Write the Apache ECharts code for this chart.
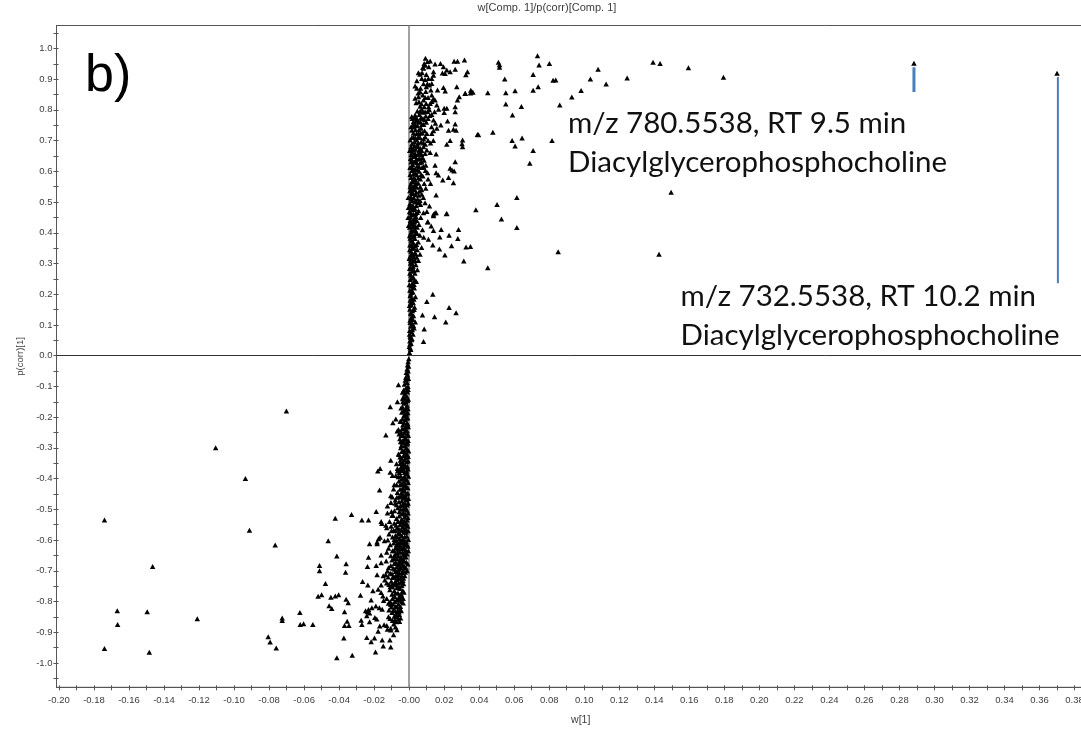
<!DOCTYPE html>
<html><head><meta charset="utf-8">
<style>html,body{margin:0;padding:0;background:#fff;overflow:hidden}#c{width:1081px;height:742px}</style>
<script src="https://cdn.jsdelivr.net/npm/echarts@6/dist/echarts.min.js"></script>
</head><body><div id="c"></div>
<script>
const chartTitle = 'w[Comp. 1]/p(corr)[Comp. 1]';
const xAxisName = 'w[1]';
const yAxisName = 'p(corr)[1]';
const panelLetter = 'b)';
const noteOne = ['m/z 780.5538, RT 9.5 min', 'Diacylglycerophosphocholine'];
const noteTwo = ['m/z 732.5538, RT 10.2 min', 'Diacylglycerophosphocholine'];

const xLabelValues = [-0.20,-0.18,-0.16,-0.14,-0.12,-0.10,-0.08,-0.06,-0.04,-0.02,0,0.02,0.04,0.06,0.08,0.10,0.12,0.14,0.16,0.18,0.20,0.22,0.24,0.26,0.28,0.30,0.32,0.34,0.36,0.38];
const xTickValues = [-0.20,-0.19,-0.18,-0.17,-0.16,-0.15,-0.14,-0.13,-0.12,-0.11,-0.10,-0.09,-0.08,-0.07,-0.06,-0.05,-0.04,-0.03,-0.02,-0.01,0,0.01,0.02,0.03,0.04,0.05,0.06,0.07,0.08,0.09,0.10,0.11,0.12,0.13,0.14,0.15,0.16,0.17,0.18,0.19,0.20,0.21,0.22,0.23,0.24,0.25,0.26,0.27,0.28,0.29,0.30,0.31,0.32,0.33,0.34,0.35,0.36,0.37,0.38];
const yLabelValues = [-1.0,-0.9,-0.8,-0.7,-0.6,-0.5,-0.4,-0.3,-0.2,-0.1,0,0.1,0.2,0.3,0.4,0.5,0.6,0.7,0.8,0.9,1.0];
const yTickValues = [-1.05,-1.0,-0.95,-0.9,-0.85,-0.8,-0.75,-0.7,-0.65,-0.6,-0.55,-0.5,-0.45,-0.4,-0.35,-0.3,-0.25,-0.2,-0.15,-0.1,-0.05,0,0.05,0.1,0.15,0.2,0.25,0.3,0.35,0.4,0.45,0.5,0.55,0.6,0.65,0.7,0.75,0.8,0.85,0.9,0.95,1.0,1.05];

const pointerA = [[0.2883,0.939],[0.2883,0.858]];
const pointerB = [[0.3705,0.907],[0.3705,0.236]];

const upperSparse = [[.2883,.952],[.370,.919],[.0733,.976],[.0742,.946],[.0801,.951],[.0708,.915],[.051,.955],[.0516,.947],[.0516,.939],[.0546,.900],[.0822,.896],[.0837,.897],[.1035,.900],[.1079,.932],[.1125,.884],[.1245,.904],[.1393,.955],[.1433,.951],[.1595,.937],[.1795,.906],[.0982,.863],[.0929,.842],[.086,.816],[.0737,.875],[.0708,.864],[.0605,.862],[.0552,.856],[.0449,.856],[.0358,.859],[.035,.855],[.032,.853],[.0552,.819],[.0641,.811],[.0590,.783],[.0478,.727],[.0396,.719],[.0588,.700],[.0645,.708],[.0605,.682],[.0816,.700],[.0708,.668],[.0689,.626],[.1496,.532],[.0615,.515],[.0502,.492],[.0381,.475],[.0527,.445],[.0615,.417],[.0851,.338],[.1427,.330],[.0449,.286],[.0312,.308],[.0325,.354],[.035,.355],[.0213,.462],[.0148,.465],[.0139,.46],[.0282,.411],[.0278,.381],[.0228,.392],[.0242,.358],[.0204,.328],[.0173,.347],[.0183,.411],[.0175,.386],[.0135,.36],[.0139,.407],[.0126,.422],[.0105,.435],[.011,.379],[.0268,.14],[.0228,.157],[.0209,.11],[.0145,.127],[.0076,.132],[.0135,.2],[.0101,.176],[.0082,.046],[.0086,.087],[.0257,.958],[.0276,.958],[.0316,.962],[.0263,.932],[.0333,.924],[.0324,.914],[.0272,.875],[.0352,.864],[.0364,.857],[.032,.854],[.0286,.843],[.0276,.832],[.0263,.81],[.0263,.794],[.0263,.754],[.0253,.737],[.0268,.734],[.0225,.734],[.039,.72],[.0234,.7],[.0215,.688],[.0305,.702],[.0302,.69],[.0305,.68],[.0263,.631],[.0234,.61],[.0245,.604],[.0257,.601],[.0225,.58],[.0253,.563],[.0192,.572],[.0167,.588],[.0154,.595],[.0154,.523],[.0116,.487],[.0101,.469],[.0082,.465],[.0154,.465],[.0139,.455],[.0215,.463],[.0107,.436],[.0148,.62]];

const upperTop = [[.0093,.968],[.0105,.957],[.0086,.951],[.012,.959],[.0148,.949],[.0179,.951],[.0082,.935],[.0074,.921],[.0053,.921],[.0062,.916],[.0196,.94],[.0215,.93],[.019,.92],[.0205,.918],[.0234,.924],[.0139,.924],[.0139,.913],[.0129,.902],[.0072,.902],[.0091,.899],[.011,.902],[.0044,.895],[.0129,.886],[.0116,.881],[.0034,.878],[.0044,.87],[.0196,.873],[.0162,.865],[.0206,.861],[.0124,.865],[.0063,.859],[.0078,.848],[.0053,.843],[.0129,.848],[.0139,.837],[.0148,.832],[.0034,.838],[.004,.823],[.0082,.832],[.0097,.821],[.012,.821],[.0129,.827],[.0158,.816],[.0111,.81],[.0072,.802],[.0091,.794],[.0168,.802],[.02,.805],[.0215,.805],[.02,.791],[.0145,.794],[.0129,.785],[.0034,.783],[.0015,.778],[.0044,.772],[.0063,.762],[.0025,.762],[.0034,.751],[.0139,.767],[.015,.756],[.0181,.751],[.0158,.74],[.0139,.732],[.0129,.723],[.0219,.764],[.0101,.723],[.0053,.723],[.0015,.734],[.0025,.712],[.0006,.702],[.0044,.702],[.0044,.685],[.0063,.675],[.0082,.68],[.0101,.669],[.0025,.669],[.0034,.658],[.0091,.658],[.012,.661],[.0154,.656],
[.0018,.772],[.0028,.744],[.0036,.735],[.0048,.748],[.0068,.74],[.0083,.752],[.0098,.76],[.0075,.725],[.0062,.71],[.0082,.705],[.0108,.7],[.0122,.692],[.0138,.7],[.0092,.688],[.0016,.69],[.003,.695],[.0011,.68],[.0056,.668],[.0071,.655],[.0024,.648],[.0042,.64],[.0012,.655],[.0058,.785],[.0068,.775],[.0079,.772],[.0095,.78],[.0047,.796],[.0063,.812],[.0086,.81],[.0108,.84],[.0095,.86],[.0098,.875],[.0052,.855],[.0118,.782],[.0128,.745]];

const upperCore = [[.0002,.01],[.0006,.025],[.0001,.03],[.0011,.04],[.0004,.048],[.0016,.055],[.0006,.063],[.0022,.07],[.0012,.078],[.0003,.082],[.0028,.09],[.0009,.096],[.0018,.104],[.0035,.11],[.0005,.115],[.0012,.124],[.0025,.13],[.0008,.138],[.0019,.146],[.0004,.151],[.0031,.158],[.0011,.165],[.0023,.172],[.0006,.18],[.0015,.186],[.0036,.192],[.0009,.2],[.0021,.207],[.0004,.213],[.0029,.22],[.0012,.227],[.0017,.235],[.0041,.241],[.0006,.248],[.0024,.255],[.001,.262],[.0033,.268],[.0015,.275],[.0047,.28],[.0003,.284],[.0022,.29],[.0038,.296],[.0008,.301],[.0027,.307],[.0014,.314],[.0053,.31],[.0043,.32],[.0005,.322],[.0021,.328],[.0062,.33],[.0032,.335],[.0011,.34],[.0046,.345],[.0018,.35],[.0071,.352],[.0035,.357],[.0004,.36],[.0024,.366],[.0052,.37],[.0012,.376],[.0083,.385],[.0033,.381],[.0019,.387],[.0061,.392],[.0007,.395],[.0041,.4],[.0026,.406],[.0014,.41],[.0076,.41],[.0003,.418],[.0035,.422],[.0056,.427],[.0021,.43],[.001,.436],[.0044,.44],[.0029,.446],[.0066,.45],[.0006,.452],[.0016,.458],[.0037,.462],[.0002,.468],[.0054,.472],[.0025,.476],[.0011,.482],[.0041,.488],[.0065,.492],[.0005,.495],[.0031,.5],[.0018,.505],[.0048,.51],[.0081,.515],[.0009,.518],[.0036,.524],[.0023,.528],[.0058,.535],[.0071,.54],[.0004,.537],[.0014,.544],[.0043,.548],[.003,.553],[.0009,.558],[.0052,.562],[.0086,.56],[.002,.567],[.0036,.572],[.0064,.575],[.0011,.58],[.0078,.585],[.0045,.588],[.0025,.592],[.0105,.595],[.0093,.603],[.0057,.6],[.0015,.603],[.0034,.608],[.0074,.612],[.0047,.618],[.0095,.62],[.002,.622],[.0063,.628],[.0011,.63],[.0037,.633],[.0085,.636],[.0052,.64],[.0026,.572],[.0108,.575],[.0122,.56],[.0095,.545],[.0072,.525],[.0062,.505],[.0091,.498],[.0007,.44],[.0003,.39],[.0016,.36],[.001,.31],[.0028,.232],[.0014,.206],[.0008,.17],[.0016,.12],[.0024,.098],[.0008,.06]];

const upperCoreExtra = [[.0009,.02],[.0004,.037],[.0013,.052],[.0002,.07],[.0018,.084],[.0006,.108],[.0022,.118],[.0014,.136],[.0028,.15],[.0002,.163],[.0018,.176],[.0027,.184],[.0006,.195],[.0013,.212],[.0024,.224],[.0001,.231],[.0032,.245],[.0015,.252],[.0004,.268],[.0027,.278],[.0008,.287],[.0018,.298],[.0034,.31],[.0001,.316],[.0026,.32],[.0012,.33],[.0039,.33],[.0003,.345],[.0028,.35],[.0012,.358],[.0042,.362],[.0018,.372],[.0006,.382],[.0028,.392],[.0046,.398],[.0012,.402],[.0034,.41],[-.0003,.424],[.0021,.42],[.0046,.418],[.0009,.428],[.0031,.435],[.0018,.44],[-.0006,.45],[.0039,.452],[.0024,.46],[.0008,.465],[.0046,.466],[.0015,.474],[.0033,.478],[-.0004,.482],[.0022,.488],[.0008,.49],[.0052,.498],[.0038,.502],[.0012,.51],[.0026,.515],[-.0005,.515],[.0055,.522],[.0014,.53],[.0041,.532],[.003,.54],[.0019,.548],[.0063,.55],[.0006,.55],[.0039,.56],[.0014,.565],[.0027,.58],[.0006,.59],[.0052,.578],[.0036,.595],[.0068,.59],[.0015,.612],[.0025,.606],[.0046,.606],[.0058,.614],[.0082,.615],[.0005,.612],[.0028,.63],[.0072,.63],[.0016,.638],[.0044,.628],[.0061,.642],[.0008,.642],[.0033,.648],[.0076,.645],[.0018,.662],[.005,.655],[.0062,.66],[.0003,.668],[.0036,.672],[.0015,.672],[.0072,.668],[.0052,.68],[.003,.682],[.0082,.692],[.0052,.692],[.0068,.695],[.0036,.708],[.0015,.71],[.0052,.712],[.0092,.712],[.0024,.725],[.0042,.722],[.0065,.725],[.0088,.732],[.0011,.745],[.0056,.735],[.0072,.752],[.0022,.752],[.0052,.76],[.0043,.765],[.0088,.768],[.0032,.775],[.0108,.772],[.0078,.792],[.0062,.795],[.0105,.795],[.0115,.8],[.0056,.826],[.007,.82],[.0092,.84],[.0065,.87],[.0082,.885],[.0104,.885],[.0098,.915],[.0078,.938],[.0112,.94],[.0092,.945]];

const lowerSparse = [[-.174,-.535],[-.1465,-.686],[-.0912,-.568],[-.0765,-.616],[-.1667,-.830],[-.1665,-.875],[-.1496,-.833],[-.121,-.856],[-.174,-.953],[-.1484,-.965],[-.0805,-.915],[-.0794,-.932],[-.0759,-.951],[-.0725,-.854],[-.0725,-.862],[-.0624,-.836],[-.0622,-.875],[-.0603,-.872],[-.055,-.875],[-.0512,-.683],[-.0512,-.7],[-.0478,-.741],[-.052,-.783],[-.05,-.778],[-.0447,-.786],[-.0422,-.782],[-.0403,-.778],[-.0457,-.814],[-.0442,-.823],[-.0462,-.602],[-.0422,-.529],[-.0329,-.517],[-.027,-.535],[-.0232,-.535],[-.0413,-.652],[-.036,-.677],[-.0363,-.705],[-.036,-.793],[-.0348,-.804],[-.0369,-.833],[-.0354,-.864],[-.0369,-.878],[-.0344,-.878],[-.0373,-.919],[-.0413,-.983],[-.0325,-.975],[-.0192,-.964],[-.0242,-.917],[-.0217,-.931],[-.0198,-.919],[-.0154,-.925],[-.0148,-.945],[-.0105,-.948],[-.011,-.925],[-.0089,-.908],[-.0266,-.735],[-.0236,-.746],[-.0278,-.780],[-.0232,-.656],[-.0238,-.686],[-.0188,-.683],[-.0226,-.612],[-.0183,-.612],[-.0183,-.606],[-.0188,-.507],[-.0124,-.489],[-.0124,-.512],[-.0101,-.507],[-.016,-.54],[-.0156,-.546],[-.0133,-.552],[-.0128,-.56],[-.0101,-.57],[-.0166,-.591],[-.0175,-.596],[-.0141,-.602],[-.0118,-.627],[-.016,-.649],[-.016,-.674],[-.0131,-.668],[-.0105,-.651],[-.0105,-.683],[-.0124,-.701],[-.0148,-.716],[-.0183,-.713],[-.0139,-.73],[-.016,-.746],[-.0207,-.765],[-.0177,-.76],[-.016,-.771],[-.015,-.782],[-.0146,-.797],[-.0128,-.79],[-.0118,-.806],[-.0217,-.795],[-.0274,-.861],[-.027,-.875],[-.0226,-.866],[-.0196,-.852],[-.0185,-.857],[-.0242,-.846],[-.0226,-.837],[-.0249,-.83],[-.0232,-.826],[-.0213,-.82],[-.019,-.815],[-.017,-.82],[-.0154,-.825],[-.0238,-.833],[-.0168,-.88],[-.0177,-.897],[-.0143,-.876],[-.0128,-.878],[-.0105,-.887],[-.0124,-.89],[-.0105,-.893],[-.0078,-.883],[-.007,-.892],[-.0118,-.85],[-.0109,-.855],
[-.0061,-.095],[-.0038,-.119],[-.0067,-.15],[-.0108,-.166],[-.0076,-.206],[-.0093,-.218],[-.0051,-.213],[-.0061,-.24],[-.0068,-.245],[-.0133,-.258],[-.0061,-.32],[-.0105,-.34],[-.0166,-.367],[-.0179,-.375],[-.0108,-.379],[-.0067,-.367],[-.0169,-.437],[-.0089,-.434],[-.0105,-.456],[-.007,-.461],[-.008,-.48],[-.1105,-.30],[-.0935,-.40],[-.0701,-.18]];

const lowerCore = [[-.0002,-.01],[-.0006,-.02],[-.0009,-.03],[-.0003,-.034],[-.0012,-.043],[-.0006,-.05],[-.0016,-.055],[-.0009,-.063],[-.0019,-.07],[-.0004,-.074],[-.0022,-.08],[-.0012,-.087],[-.0027,-.093],[-.0007,-.1],[-.0018,-.105],[-.0031,-.112],[-.001,-.118],[-.0024,-.124],[-.0014,-.132],[-.0034,-.136],[-.0005,-.142],[-.002,-.149],[-.0029,-.155],[-.0012,-.161],[-.0038,-.167],[-.0007,-.173],[-.0024,-.178],[-.0042,-.184],[-.0016,-.19],[-.0031,-.196],[-.0009,-.202],[-.0022,-.208],[-.0047,-.214],[-.0013,-.22],[-.0036,-.226],[-.0005,-.231],[-.0027,-.237],[-.0018,-.243],[-.0044,-.249],[-.001,-.255],[-.0033,-.26],[-.0021,-.266],[-.0053,-.27],[-.0006,-.276],[-.0039,-.282],[-.0014,-.288],[-.0027,-.294],[-.0048,-.3],[-.001,-.305],[-.0034,-.311],[-.002,-.317],[-.0058,-.322],[-.0006,-.328],[-.0042,-.334],[-.0026,-.34],[-.0012,-.345],[-.0051,-.351],[-.0034,-.357],[-.0018,-.363],[-.0066,-.375],[-.0055,-.38],[-.0007,-.369],[-.0043,-.374],[-.0026,-.38],[-.0076,-.39],[-.0062,-.394],[-.0049,-.391],[-.0012,-.386],[-.0034,-.397],[-.0019,-.403],[-.0058,-.408],[-.0006,-.413],[-.0042,-.418],[-.0072,-.42],[-.0027,-.424],[-.0014,-.43],[-.0052,-.435],[-.0036,-.44],[-.0067,-.445],[-.0008,-.447],[-.0022,-.453],[-.0046,-.458],[-.0031,-.464],[-.0015,-.47],[-.0058,-.475],[-.0079,-.47],[-.0006,-.48],[-.0038,-.485],[-.0024,-.49],[-.0065,-.495],[-.0049,-.5],[-.0012,-.503],[-.0084,-.505],[-.0033,-.51],[-.002,-.517],[-.0057,-.522],[-.0092,-.52],[-.0008,-.527],[-.0042,-.532],[-.0072,-.53],[-.0028,-.538],[-.0085,-.545],[-.0015,-.545],[-.0053,-.55],[-.0103,-.555],[-.0036,-.556],[-.0068,-.56],[-.002,-.563],[-.0088,-.568],[-.0046,-.568],[-.0006,-.57],[-.0029,-.575],[-.0062,-.578],[-.0078,-.585],[-.0042,-.586],[-.0014,-.587],[-.0095,-.59],[-.0055,-.595],[-.003,-.6],[-.0072,-.603],[-.0018,-.605],[-.0045,-.61],[-.0088,-.61],[-.0062,-.616],[-.0108,-.615],[-.0032,-.62],[-.0008,-.62],[-.0078,-.625],[-.005,-.628],[-.002,-.632],[-.0095,-.635],[-.0038,-.64],[-.0066,-.642],[-.0012,-.645],[-.0085,-.65],[-.0048,-.655],[-.0026,-.655],[-.0072,-.66],[-.0098,-.665],[-.0036,-.668],[-.0058,-.672],[-.0015,-.672],[-.0085,-.676],[-.0042,-.682],[-.007,-.686],[-.0026,-.688],[-.0092,-.692],[-.0056,-.695],[-.0012,-.7],[-.0078,-.702],[-.004,-.706],[-.0108,-.708],[-.0064,-.712],[-.0025,-.716],[-.0088,-.72],[-.005,-.724],[-.0072,-.728],[-.0102,-.734],[-.0036,-.732],[-.006,-.74],[-.0115,-.745],[-.0084,-.744],[-.0042,-.748],[-.0096,-.752],[-.007,-.755],[-.0052,-.758],[-.011,-.762],[-.0085,-.765],[-.0036,-.764],[-.0064,-.772],[-.0098,-.776],[-.0045,-.776],[-.0082,-.784],[-.0054,-.786],[-.0034,-.79],[-.0072,-.795],[-.0108,-.8],[-.0042,-.8],[-.0092,-.808],[-.0062,-.808],[-.0078,-.816],[-.0102,-.818],[-.005,-.816],[-.0088,-.826],[-.0066,-.83],[-.0115,-.828],[-.0045,-.83],[-.0098,-.836],[-.0075,-.84],[-.0056,-.842],[-.0085,-.848],[-.0062,-.856],[-.0095,-.862],[-.0072,-.866],[-.0088,-.873],[-.0049,-.854],[-.0052,-.778],[-.003,-.77],[-.0128,-.74],[-.012,-.72],[-.0134,-.712],[-.0118,-.69],[-.0128,-.64],[-.0122,-.6],[-.0115,-.58],[-.0112,-.54],[-.0098,-.52],[-.0104,-.478],[-.0096,-.46],[-.0085,-.42],[-.0095,-.39],[-.0072,-.352],[-.0052,-.33],[-.0049,-.28],[-.0057,-.255],[-.0046,-.17],[-.0037,-.14]];

const lowerCoreExtra = [[-.0014,-.076],[-.0006,-.11],[-.0015,-.115],[-.0025,-.138],[-.001,-.146],[-.0036,-.15],[-.0018,-.172],[-.0033,-.18],[-.0008,-.186],[-.0026,-.192],[-.0014,-.204],[-.0038,-.206],[-.0028,-.218],[-.0008,-.222],[-.0018,-.232],[-.004,-.238],[-.0012,-.244],[-.0028,-.25],[-.0005,-.26],[-.0045,-.26],[-.0018,-.272],[-.0035,-.275],[-.0009,-.284],[-.0025,-.283],[-.0044,-.292],[-.0016,-.3],[-.0003,-.31],[-.0028,-.31],[-.0042,-.312],[-.0012,-.322],[-.0032,-.325],[-.0021,-.332],[-.005,-.34],[-.0006,-.342],[-.0038,-.348],[-.0024,-.355],[-.0046,-.362],[-.001,-.36],[-.0032,-.37],[-.0014,-.376],[-.0052,-.372],[-.0004,-.392],[-.0026,-.394],[-.0044,-.402],[-.0012,-.405],[-.0032,-.412],[-.0052,-.42],[-.002,-.42],[-.0008,-.43],[-.0036,-.43],[-.0025,-.44],[-.0045,-.448],[-.0012,-.45],[-.0032,-.455],[-.0058,-.46],[-.0018,-.462],[-.0004,-.465],[-.0042,-.472],[-.0026,-.478],[-.0012,-.486],[-.005,-.488],[-.0072,-.485],[-.0032,-.498],[-.0018,-.5],[-.0056,-.508],[-.0006,-.512],[-.0042,-.515],[-.0026,-.525],[-.0012,-.535],[-.0065,-.54],[-.0048,-.54],[-.0035,-.545],[-.0022,-.55],[-.0075,-.552],[-.0008,-.555],[-.0058,-.565],[-.0034,-.568],[-.0078,-.57],[-.0018,-.575],[-.0052,-.58],[-.0068,-.59],[-.0026,-.59],[-.0036,-.595],[-.0005,-.598],[-.0085,-.598],[-.0048,-.604],[-.0058,-.608],[-.0022,-.612],[-.0036,-.61],[-.0072,-.616],[-.0012,-.615],[-.0052,-.62],[-.0042,-.625],[-.0065,-.63],[-.0028,-.628],[-.0085,-.635],[-.0005,-.635],[-.0054,-.638],[-.0022,-.642],[-.0076,-.645],[-.0034,-.648],[-.0062,-.652],[-.0018,-.655],[-.0042,-.66],[-.0088,-.66],[-.0054,-.664],[-.0028,-.668],[-.0076,-.672],[-.0008,-.678],[-.0046,-.675],[-.0035,-.682],[-.0062,-.68],[-.0018,-.69],[-.0082,-.695],[-.0048,-.69],[-.0068,-.7],[-.0034,-.698],[-.0098,-.71],[-.0055,-.708],[-.0022,-.705],[-.0076,-.715],[-.0042,-.716],[-.0095,-.722],[-.0062,-.724],[-.0032,-.724],[-.0078,-.735],[-.0048,-.736],[-.0095,-.742],[-.0032,-.742],[-.0072,-.746],[-.0058,-.752],[-.0108,-.752],[-.0078,-.772],[-.0042,-.785],[-.0062,-.79],[-.0095,-.79],[-.0052,-.796],[-.0082,-.8],[-.0034,-.805],[-.0068,-.818],[-.0052,-.825],[-.0082,-.83],[-.0058,-.834],[-.0105,-.81],[-.0072,-.85],[-.0082,-.86],[-.0055,-.865]];

const allPoints = [].concat(upperSparse, upperTop, upperCore, upperCoreExtra, lowerSparse, lowerCore, lowerCoreExtra);

const axisGrey = '#555555', labelGrey = '#3c3c3c';
const baseAxis = {
  type: 'value', splitLine: {show: false}, scale: false,
  axisLine: {show: true, onZero: false, lineStyle: {color: axisGrey, width: 1}},
};
const note = (text, x, y) => ({type: 'text', x, y, silent: true, style: {
  text: text.join('\n'), font: '29.5px Lato, sans-serif', lineHeight: 39, fill: '#111', textVerticalAlign: 'top'}});

const chart = echarts.init(document.getElementById('c'), null, {renderer: 'canvas'});
chart.setOption({
  animation: false,
  backgroundColor: '#ffffff',
  title: {text: chartTitle, left: 547, top: 2, textAlign: 'center', padding: [0, 0, 0, 0],
    textStyle: {fontFamily: 'Liberation Sans', fontSize: 11, fontWeight: 'normal', color: labelGrey}},
  grid: {left: 56.5, top: 25.5, width: 1048.5, height: 661.8, show: true, borderColor: axisGrey, borderWidth: 1, backgroundColor: 'transparent', containLabel: false, outerBoundsMode: 'none'},
  xAxis: [
    Object.assign({}, baseAxis, {min: -0.2014, max: 0.3974, position: 'bottom',
      name: xAxisName, nameLocation: 'middle', nameGap: 27,
      nameTextStyle: {fontFamily: 'Liberation Sans', fontSize: 10.5, color: labelGrey},
      axisTick: {show: true, length: 3, lineStyle: {color: axisGrey}, customValues: xTickValues},
      axisLabel: {show: true, margin: 8, fontFamily: 'Liberation Sans', fontSize: 9.5, color: labelGrey, customValues: xLabelValues,
        showMinLabel: true, showMaxLabel: true, hideOverlap: false,
        formatter: v => Math.abs(v) < 1e-9 ? '-0.00' : v.toFixed(2)}}),
    Object.assign({}, baseAxis, {min: -0.2014, max: 0.3974, position: 'bottom',
      axisTick: {show: true, inside: true, length: 2, lineStyle: {color: axisGrey}, customValues: xTickValues},
      axisLabel: {show: false}})
  ],
  yAxis: [
    Object.assign({}, baseAxis, {min: -1.0792, max: 1.0745, position: 'left',
      name: yAxisName, nameLocation: 'middle', nameGap: 26, nameRotate: 90,
      nameTextStyle: {fontFamily: 'Liberation Sans', fontSize: 9.5, color: labelGrey},
      axisTick: {show: true, length: 3, lineStyle: {color: axisGrey}, customValues: yTickValues},
      axisLabel: {show: true, margin: 4, fontFamily: 'Liberation Sans', fontSize: 9.5, color: labelGrey, customValues: yLabelValues,
        hideOverlap: false, formatter: v => (Math.abs(v) < 1e-9 ? 0 : v).toFixed(1)}}),
    Object.assign({}, baseAxis, {min: -1.0792, max: 1.0745, position: 'left',
      axisTick: {show: true, inside: true, length: 2, lineStyle: {color: axisGrey}, customValues: yTickValues},
      axisLabel: {show: false}})
  ],
  series: [
    {type: 'scatter', name: 'Variables', data: allPoints, symbol: 'triangle', symbolSize: [5.5, 5], z: 3,
      itemStyle: {color: '#000000', opacity: 1}, large: false, clip: true,
      markLine: {silent: true, symbol: 'none', animation: false, z: 1, label: {show: false}, data: [
        {xAxis: 0, lineStyle: {color: '#8a8a8a', width: 1.6, type: 'solid'}},
        {yAxis: 0, lineStyle: {color: '#333333', width: 1, type: 'solid'}}
      ]}},
    {type: 'line', name: 'Pointer A', data: pointerA, showSymbol: false, symbol: 'none', z: 2, lineStyle: {color: '#4a7ebb', width: 3}},
    {type: 'line', name: 'Pointer B', data: pointerB, showSymbol: false, symbol: 'none', z: 2, lineStyle: {color: '#4a7ebb', width: 2}}
  ],
  graphic: [
    {type: 'text', x: 85, y: 51, silent: true, style: {text: panelLetter, font: '52px "Liberation Sans", sans-serif', fill: '#000', textVerticalAlign: 'top'}},
    note(noteOne, 568, 104),
    note(noteTwo, 680.5, 277)
  ]
});
</script></body></html>
